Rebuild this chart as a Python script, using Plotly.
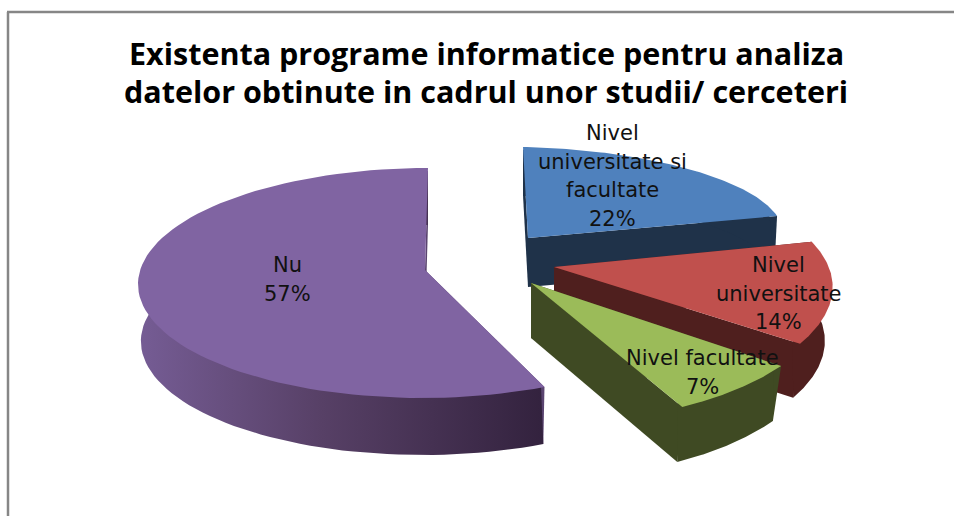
import numpy as np
import plotly.graph_objects as go

# ---- data ----
title_lines = ["Existenta programe informatice pentru analiza",
               "datelor obtinute in cadrul unor studii/ cerceteri"]
categories = ["Nivel universitate si facultate", "Nivel universitate", "Nivel facultate", "Nu"]
values = [22, 14, 7, 57]
category_lines = [["Nivel", "universitate si", "facultate"], ["Nivel", "universitate"], ["Nivel facultate"], ["Nu"]]

# ---- style / projection of each exploded slice (screen pixels) ----
top_colors = ["#4F81BD", "#C0504D", "#9BBB59", "#8064A2"]
wall_colors = ["#1F3249", "#4F1F1E", "#3F4A23", "#5A4470"]
apex = [(528, 238), (554, 267), (531, 283), (425, 270)]
# offset from apex: dx = a sin t + b cos t ; dy = e + c sin t - d cos t
proj = [(254.5, -5, 5.3, 78.5, -12.5), (273, -56, -30, 116, 26),
        (305, -23.7, 0, 153, -14.5), (287, 3, 0, 115, 13)]
depth = [49, 54, 55, 57]
shrink = [0.99, 0.972, 0.967, 0.99]
label_xy = [(612, 133), (778, 265), (702, 358), (287, 265)]
LINE_H = 28.5


def rim(i, t, kx=1.0, ky=1.0, dz=0.0):
    a, b, c, d, e = proj[i]
    s, co = np.sin(t), np.cos(t)
    return (apex[i][0] + kx * (a * s + b * co), apex[i][1] + ky * (e + c * s - d * co) + dz)


fig = go.Figure()
edges = np.cumsum([0] + values) / sum(values) * 2 * np.pi

for i in range(len(values)):
    t = np.linspace(edges[i], edges[i + 1], 90)
    tx, ty = rim(i, t)
    ix, iy = rim(i, t, 0.97, 0.97)    # wall tucks under the top face so no seam shows
    bx, by = rim(i, t, shrink[i], 1.0, depth[i])
    ax, ay = apex[i]
    walls = [
        ([ax, tx[0], bx[0], ax, ax], [ay, ty[0], by[0], ay + depth[i], ay]),
        ([ax, tx[-1], bx[-1], ax, ax], [ay, ty[-1], by[-1], ay + depth[i], ay]),
    ]
    for wx, wy in walls:
        fig.add_trace(go.Scatter(x=wx, y=wy, mode="lines", fill="toself", line=dict(width=0),
                                 fillcolor=wall_colors[i], hoverinfo="skip"))
    arc_x = np.r_[ix, bx[::-1], ix[0]]
    arc_y = np.r_[iy, by[::-1], iy[0]]
    if i == 3:
        fig.add_trace(go.Scatter(x=arc_x, y=arc_y, mode="lines", fill="toself", line=dict(width=0),
                                 fillgradient=dict(type="horizontal",
                                                   colorscale=[[0, "#755C94"], [0.45, "#574066"], [1, "#33223E"]]),
                                 hoverinfo="skip"))
    else:
        fig.add_trace(go.Scatter(x=arc_x, y=arc_y, mode="lines", fill="toself", line=dict(width=0),
                                 fillcolor=wall_colors[i], hoverinfo="skip"))
    fig.add_trace(go.Scatter(x=np.r_[ax, tx, ax], y=np.r_[ay, ty, ay], mode="lines", fill="toself",
                             line=dict(width=0), fillcolor=top_colors[i],
                             name=categories[i], text=f"{categories[i]}: {values[i]}%", hoverinfo="text"))

annotations = []
for i, lines in enumerate(category_lines):
    x, y = label_xy[i]
    for j, txt in enumerate(lines + [f"{values[i]}%"]):
        annotations.append(dict(x=x, y=y + j * LINE_H, text=txt, showarrow=False, xanchor="center", yanchor="middle",
                                font=dict(family="DejaVu Sans", size=21, color="#111111")))
for j, txt in enumerate(title_lines):
    annotations.append(dict(x=486, y=53 + j * 38, text=f"<b>{txt}</b>", showarrow=False, xanchor="center",
                            yanchor="middle", font=dict(family="Open Sans", size=30.5, color="#000000")))

fig.update_layout(
    width=954, height=516, margin=dict(l=0, r=0, t=0, b=0), showlegend=False,
    paper_bgcolor="white", plot_bgcolor="white", annotations=annotations,
    xaxis=dict(range=[0, 954], visible=False, fixedrange=True),
    yaxis=dict(range=[516, 0], visible=False, fixedrange=True),
    shapes=[
        dict(type="line", x0=8, x1=8, y0=12, y1=516, line=dict(color="#868686", width=2.5)),
        dict(type="line", x0=7, x1=954, y0=12, y1=12, line=dict(color="#868686", width=2.5)),
    ],
)
fig.write_html("out.html", config=dict(displayModeBar=False),
               post_script="document.body.style.margin='0';document.body.style.overflow='hidden';")
